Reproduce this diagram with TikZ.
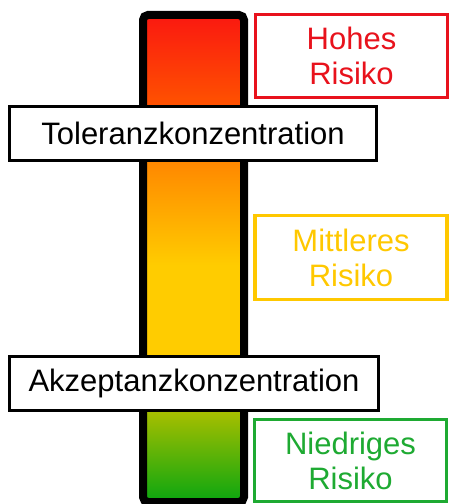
\documentclass[tikz,border=0pt]{standalone}
\usepackage{fontspec}
\setmainfont{Liberation Sans}

\definecolor{topred}{RGB}{250,24,16}
\definecolor{hotorange}{RGB}{255,82,0}
\definecolor{warmorange}{RGB}{255,136,0}
\definecolor{amber}{RGB}{255,204,0}
\definecolor{olivegreen}{RGB}{166,190,0}
\definecolor{lowgreen}{RGB}{10,166,16}
\definecolor{riskred}{RGB}{232,18,28}
\definecolor{riskyellow}{RGB}{255,200,0}
\definecolor{riskgreen}{RGB}{30,170,50}

% colour scale of the bar, from bottom (low risk) to top (high risk)
\pgfdeclareverticalshading{riskscale}{100bp}{%
  color(0bp)=(lowgreen); color(25bp)=(lowgreen);
  color(34.24bp)=(olivegreen); color(40.09bp)=(amber);
  color(49.33bp)=(amber); color(59.91bp)=(warmorange);
  color(65.76bp)=(hotorange); color(75bp)=(topred);
  color(100bp)=(topred)}

\tikzset{
  scalebar/.style={draw=black, line width=8bp, rounded corners=5bp,
    shading=riskscale, minimum width=101bp, minimum height=487bp,
    inner sep=0pt},
  limitbox/.style={draw=black, fill=white, line width=3bp,
    minimum height=54bp, inner sep=0pt,
    font=\fontsize{31bp}{37bp}\selectfont},
  riskbox/.style={draw=#1, text=#1, fill=white, line width=3.5bp,
    minimum width=192bp, inner sep=0pt, align=center,
    font=\fontsize{31bp}{35bp}\selectfont},
}

\begin{document}
\begin{tikzpicture}[x=1bp, y=-1bp]
\useasboundingbox (0,0) rectangle (451,504);

% vertical risk scale
\node[scalebar] (scale) at (193.5,258.5) {};

% risk level labels
\node[riskbox=riskred, minimum height=83bp] (high) at (351.5,56) {Hohes\\Risiko};
\node[riskbox=riskyellow, minimum height=84bp] (medium) at (351,257.5) {Mittleres\\Risiko};
\node[riskbox=riskgreen, minimum height=82bp] (low) at (350.5,460.5) {Niedriges\\Risiko};

% threshold concentrations
\node[limitbox, minimum width=367bp] (tolerance) at (193,133.5) {Toleranzkonzentration};
\node[limitbox, minimum width=369bp] (acceptance) at (194,383.5) {Akzeptanzkonzentration};
\end{tikzpicture}
\end{document}
